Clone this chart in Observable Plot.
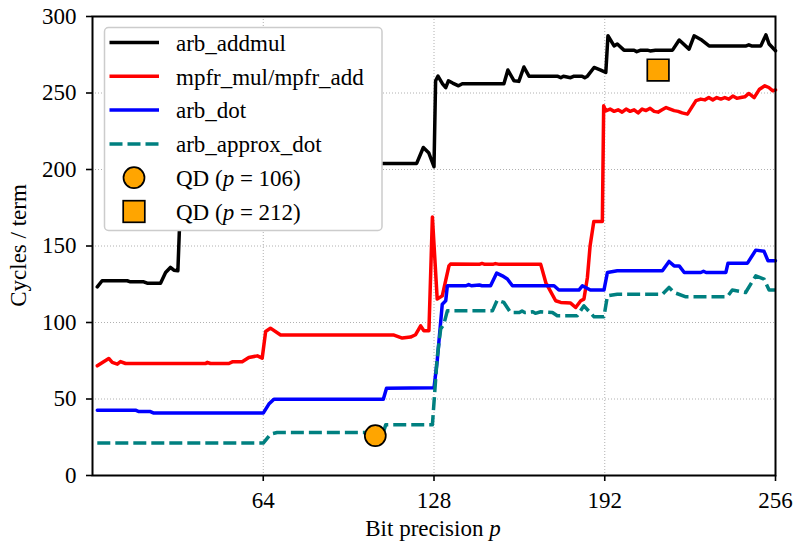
<!DOCTYPE html>
<html><head><meta charset="utf-8">
<script src="https://cdn.jsdelivr.net/npm/d3@7"></script>
<script src="https://cdn.jsdelivr.net/npm/@observablehq/plot@0.6"></script>
<style>body{margin:0;background:#fff}#chart{width:795px;height:542px}</style>
</head><body><div id="chart"></div>
<script>
// Data: [bit precision p, cycles / term]
const arbAddmul = [[1.8,123.3],[3.6,127.3],[13,127.3],[14.2,126.6],[19.2,126.6],[20.5,125.7],[25.5,125.7],[27.4,132.7],[29.2,136],[30.5,134.2],[32,133.8],[33.5,204],[121.5,204],[124,214.4],[126,211],[128,201.8],[128.6,258],[129.5,261],[131.2,256],[132.4,253.5],[133.4,258],[135,256.5],[137.2,254.7],[138.6,256],[154.2,256],[155.7,265],[158,258],[159.8,257.6],[161.7,267],[163.6,261],[174.2,261],[175.5,260],[176.5,261],[179.2,260],[180.5,261],[183.5,261],[184.5,260],[185.5,261],[188,266.7],[190.5,265],[192.4,263.4],[193.2,287.4],[195.5,280.8],[196.7,282],[199.2,278],[203,278],[204,277],[205.5,278],[208,278],[209,277.5],[211,278],[217.4,278],[219.9,284.6],[223.6,278.7],[225.5,287.4],[228,285],[231.1,280.8],[245,280.8],[246,281.5],[247,280.8],[250.5,280.8],[252.4,288],[253.6,282],[256,277.6]];
const mpfrMulAdd = [[1.8,71.7],[6.1,76.5],[7.4,73.9],[9.3,72.8],[10.5,74.5],[12.4,73.2],[42.4,73.2],[43,74],[44.2,73.2],[51.1,73.2],[52.4,74.3],[56.1,74.3],[58.6,77.1],[61.8,78.2],[63.6,76.7],[64.9,94.1],[66.7,96.3],[70.5,91.8],[113,91.8],[116.1,89.8],[119.2,90.5],[121.1,92],[123,97.8],[124.2,94.6],[126.1,94.6],[127.4,169],[129.2,115.3],[131.1,117.4],[133.6,137],[134.2,138.2],[145,138],[146,138.6],[147,138],[150,138],[151,138.5],[152.5,138],[168,138],[169.9,126.1],[173.6,114.2],[175.5,113.1],[179.2,112.7],[181.1,109.8],[183,114.2],[184.2,115.3],[185.5,129.4],[186.5,150],[187.9,166],[191.1,166],[191.6,241.6],[192.4,238.3],[194,239.5],[195.5,238],[197,239],[198.5,237.5],[200,239.5],[201.5,238],[203,239],[204.5,237],[206,239.5],[207.5,238.5],[209,240],[210.5,238],[212,237.5],[213.5,239],[215,240.5],[216.5,239.5],[218,238.5],[219.5,238],[221,237],[223,236.2],[226.2,245],[228,246],[229.5,245.5],[231,247],[232.5,245.5],[234,247],[235.5,246],[237,247],[238.5,246],[240,248],[241.5,246.5],[243,247],[244.5,247.5],[246,249.7],[248,247],[250,252.5],[252,254.7],[253.5,253.6],[255,251.4],[256,252]];
const arbDot = [[1.8,42.7],[16.1,42.7],[17.4,41.8],[21.7,41.8],[23,40.8],[64,40.8],[66.1,46.7],[68,49.9],[109,49.9],[110.2,57.1],[128,57.3],[129.2,75],[131.1,112],[132.4,114.2],[133,124],[140,124],[141,124.8],[142,124],[145,124.5],[146,124],[149.2,124],[151.5,132.3],[153.6,130.5],[155.5,128.4],[157.4,124],[173,124],[174.8,121.2],[182.3,121.2],[183.6,124],[186.6,121.2],[191.7,121.2],[193,132.7],[196.7,133.8],[213.6,133.8],[216.1,139.9],[218,137],[219.9,137],[221.8,132.7],[228,132.7],[229,133.5],[230,132.7],[237.4,132.7],[238.2,138.8],[245.5,138.8],[248.6,147.3],[251.7,146.5],[253.2,140.3],[256,140.3]];
const arbApproxDot = [[1.8,21.2],[64,21.2],[66.7,27],[69.2,28.1],[109,28.1],[109.9,33.1],[127.4,33.1],[129.2,77.1],[130.5,95.7],[131.7,98.9],[133,107.6],[149.9,107.6],[151.7,114.6],[154.2,113.1],[156.7,106.5],[160,106.5],[161,107.5],[162,106.5],[165,107],[166,106],[168,107],[172.4,106.5],[174.2,104.4],[181.7,104.4],[184.2,110.9],[188,103.7],[191.7,103.7],[193,117.4],[196.7,118.5],[213.6,118.5],[216.1,122.9],[218,119.6],[222.4,116.8],[237.9,116.8],[239.8,121.2],[244.8,119.6],[248.6,130.5],[251.7,128.4],[253.6,121.2],[256,121.2]];
const qdPrecision = [106, 212];
const qdCycles = [26, 265];
const xTicks = [64, 128, 192, 256];
const yTicks = [0, 50, 100, 150, 200, 250, 300];
const seriesNames = ["arb_addmul", "mpfr_mul/mpfr_add", "arb_dot", "arb_approx_dot"];

const rows = a => a.map(([p, v]) => ({p, v}));

// pick the first installed serif font (Computer Modern look-alike)
function pickFont() {
  const cands = ["Liberation Serif", "DejaVu Serif", "Noto Serif", "Tinos", "Times New Roman", "FreeSerif", "Nimbus Roman", "Latin Modern Roman", "CMU Serif"];
  const ctx = document.createElement("canvas").getContext("2d");
  const s = "Bit precision arb_addmul QD 0123456789";
  const w = f => { ctx.font = "40px " + f; return ctx.measureText(s).width; };
  const wm = w("monospace"), ws = w("sans-serif");
  for (const c of cands) {
    if (w(`"${c}", monospace`) !== wm || w(`"${c}", sans-serif`) !== ws) return `"${c}", serif`;
  }
  return "serif";
}
const FONT = pickFont();
const LW = 3.5;

const chart = Plot.plot({
  width: 795, height: 542,
  marginLeft: 92, marginRight: 20, marginTop: 16, marginBottom: 67,
  style: {fontFamily: FONT, fontSize: "23px", background: "white", color: "black"},
  x: {domain: [0, 256]},
  y: {domain: [0, 300]},
  marks: [
    Plot.gridX({ticks: xTicks, stroke: "#b0b0b0", strokeOpacity: 1, strokeWidth: 1, strokeDasharray: "1,2"}),
    Plot.gridY({ticks: yTicks, stroke: "#b0b0b0", strokeOpacity: 1, strokeWidth: 1, strokeDasharray: "1,2"}),
    Plot.line(rows(arbAddmul), {x: "p", y: "v", stroke: "black", strokeWidth: LW}),
    Plot.line(rows(mpfrMulAdd), {x: "p", y: "v", stroke: "#ff0000", strokeWidth: LW}),
    Plot.line(rows(arbDot), {x: "p", y: "v", stroke: "#0000ff", strokeWidth: LW}),
    Plot.line(rows(arbApproxDot), {x: "p", y: "v", stroke: "#008080", strokeWidth: LW, strokeDasharray: "13,5", strokeLinecap: "butt"}),
    Plot.dot([0], {x: () => qdPrecision[0], y: () => qdCycles[0], r: 10.5, fill: "#ffa500", stroke: "black", strokeWidth: 1.7}),
    Plot.dot([1], {x: () => qdPrecision[1], y: () => qdCycles[1], symbol: "square", r: 12.2, fill: "#ffa500", stroke: "black", strokeWidth: 1.7}),
    Plot.frame({stroke: "black", strokeWidth: 2}),
    Plot.axisX({ticks: xTicks, tickSize: 6, tickPadding: 10.5, fontSize: 23, label: null, strokeWidth: 1.6}),
    Plot.axisY({ticks: yTicks, tickSize: 6, tickPadding: 10, fontSize: 23, label: null, strokeWidth: 1.6})
  ]
});
document.getElementById("chart").appendChild(chart);

const svg = d3.select(chart);
// axis labels
const xl = svg.append("text").attr("x", 433).attr("y", 536).attr("text-anchor", "middle")
  .style("font-family", FONT).style("font-size", "23px").attr("fill", "black");
xl.append("tspan").text("Bit precision ");
xl.append("tspan").attr("font-style", "italic").text("p");
svg.append("text").attr("transform", "translate(26,245.5) rotate(-90)").attr("text-anchor", "middle")
  .style("font-family", FONT).style("font-size", "23px").attr("fill", "black").text("Cycles / term");

// legend
const lg = svg.append("g").style("font-family", FONT).style("font-size", "23px");
lg.append("rect").attr("x", 104.5).attr("y", 27.5).attr("width", 277.5).attr("height", 203).attr("rx", 4)
  .attr("fill", "white").attr("stroke", "#cccccc").attr("stroke-width", 1.5);
const entries = [
  {type: "line", stroke: "black", label: [[seriesNames[0]]]},
  {type: "line", stroke: "#ff0000", label: [[seriesNames[1]]]},
  {type: "line", stroke: "#0000ff", label: [[seriesNames[2]]]},
  {type: "line", stroke: "#008080", dash: "13,5", label: [[seriesNames[3]]]},
  {type: "circle", label: [["QD ("], ["p", true], [" = " + qdPrecision[0] + ")"]]},
  {type: "square", label: [["QD ("], ["p", true], [" = " + qdPrecision[1] + ")"]]}
];
entries.forEach((e, i) => {
  const cy = 42.5 + i * 33.8;
  if (e.type === "line") {
    lg.append("line").attr("x1", 109.5).attr("x2", 159).attr("y1", cy).attr("y2", cy)
      .attr("stroke", e.stroke).attr("stroke-width", LW)
      .attr("stroke-dasharray", e.dash || null).attr("stroke-linecap", "butt");
  } else if (e.type === "circle") {
    lg.append("circle").attr("cx", 134).attr("cy", cy).attr("r", 10.5)
      .attr("fill", "#ffa500").attr("stroke", "black").attr("stroke-width", 1.7);
  } else {
    lg.append("rect").attr("x", 134 - 10.8).attr("y", cy - 10.8).attr("width", 21.6).attr("height", 21.6)
      .attr("fill", "#ffa500").attr("stroke", "black").attr("stroke-width", 1.7);
  }
  const t = lg.append("text").attr("x", 176).attr("y", cy + 8.3).attr("fill", "black").attr("text-anchor", "start");
  e.label.forEach(([s, it]) => t.append("tspan").attr("font-style", it ? "italic" : null).text(s));
});
</script>
</body></html>
